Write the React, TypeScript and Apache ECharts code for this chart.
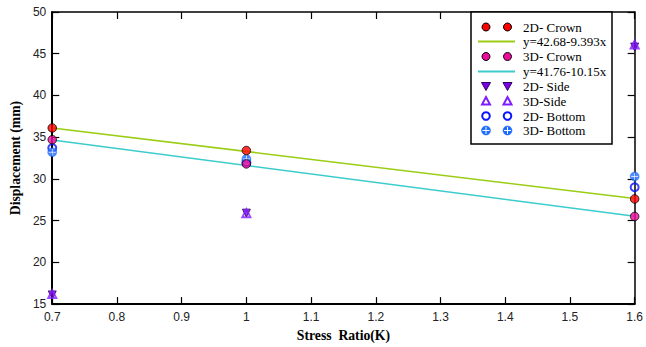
import React, { useEffect, useRef } from "react";
import * as echarts from "echarts";

const stressRatio = [0.7, 1.0, 1.6];
const crown2D = [36.1, 33.4, 27.6];
const crown3D = [34.7, 31.8, 25.5];
const side2D = [16.1, 25.9, 45.8];
const side3D = [16.2, 25.9, 46.1];
const bottom2D = [33.7, 32.0, 29.0];
const bottom3D = [33.2, 32.4, 30.3];
const fit2D = [[0.7, 36.1], [1.6, 27.65]];
const fit3D = [[0.7, 34.66], [1.6, 25.52]];
const legendLabels = ["2D- Crown", "y=42.68-9.393x", "3D- Crown", "y=41.76-10.15x", "2D- Side", "3D-Side", "2D- Bottom", "3D- Bottom"];

const C_RED = "#FF0000";
const C_PINK = "#EE0A9A";
const C_PURPLE = "#7A00E6";
const C_VIOLET = "#7F1CFF";
const C_BLUE = "#0A14FF";
const C_BLUE2 = "#1E6BFF";
const C_GREEN = "#9ACD14";
const C_CYAN = "#3CCCCC";

const pts = (ys: number[]) => stressRatio.map((x, i) => [x, ys[i]]);

export default function App() {
  const ref = useRef<HTMLDivElement>(null);
  useEffect(() => {
    const chart = echarts.init(ref.current!, null, { renderer: "svg" });
    const L = 50, R = 638, T = 12, B = 306;
    const plus = "path://M5,0L5,10M0,5L10,5";

    const lg: any[] = [];
    lg.push({ type: "rect", shape: { x: 471, y: 12, width: 141, height: 132 }, style: { fill: "#fff", stroke: "#000", lineWidth: 1.5 }, z: 100 });
    const rowY = [27, 41.5, 56.5, 71.5, 86.5, 101, 116, 130.5];
    const mx = [486, 507.5];
    rowY.forEach((y, i) => {
      lg.push({ type: "text", x: 523, y, style: { text: legendLabels[i], font: "13px 'Liberation Serif', 'Times New Roman', serif", fill: "#000", verticalAlign: "middle" }, z: 101 });
    });
    mx.forEach((x) => {
      lg.push({ type: "circle", shape: { cx: x, cy: rowY[0], r: 4 }, style: { fill: C_RED, stroke: "#000", lineWidth: 1 }, z: 101 });
      lg.push({ type: "circle", shape: { cx: x, cy: rowY[2], r: 4 }, style: { fill: C_PINK, stroke: "#000", lineWidth: 1 }, z: 101 });
      lg.push({ type: "polygon", shape: { points: [[x - 4.5, rowY[4] - 4], [x + 4.5, rowY[4] - 4], [x, rowY[4] + 4]] }, style: { fill: C_PURPLE, stroke: "#300060", lineWidth: 1 }, z: 101 });
      lg.push({ type: "polygon", shape: { points: [[x - 4, rowY[5] + 3.5], [x + 4, rowY[5] + 3.5], [x, rowY[5] - 4]] }, style: { fill: "none", stroke: C_VIOLET, lineWidth: 2 }, z: 101 });
      lg.push({ type: "circle", shape: { cx: x, cy: rowY[6], r: 3.8 }, style: { fill: "none", stroke: C_BLUE, lineWidth: 2 }, z: 101 });
      lg.push({ type: "circle", shape: { cx: x, cy: rowY[7], r: 4.5 }, style: { fill: C_BLUE2, stroke: C_BLUE2, lineWidth: 0.5 }, z: 101 });
      lg.push({ type: "line", shape: { x1: x - 3.5, y1: rowY[7], x2: x + 3.5, y2: rowY[7] }, style: { stroke: "#fff", lineWidth: 1 }, z: 102 });
      lg.push({ type: "line", shape: { x1: x, y1: rowY[7] - 3.5, x2: x, y2: rowY[7] + 3.5 }, style: { stroke: "#fff", lineWidth: 1 }, z: 102 });
    });
    lg.push({ type: "line", shape: { x1: 478, y1: rowY[1], x2: 515, y2: rowY[1] }, style: { stroke: C_GREEN, lineWidth: 1.8 }, z: 101 });
    lg.push({ type: "line", shape: { x1: 478, y1: rowY[3], x2: 515, y2: rowY[3] }, style: { stroke: C_CYAN, lineWidth: 1.8 }, z: 101 });

    const tickLabel = { fontFamily: "'Liberation Sans', Arial, sans-serif", fontSize: 12, color: "#222" };
    const fmt = (v: number) => String(Math.round(v * 10) / 10);
    const fmtY = (v: number) => String(Math.round(v));
    const titleStyle = { fontFamily: "'Liberation Serif', 'Times New Roman', serif", fontWeight: "bold", fontSize: 13.7, color: "#000" };

    chart.setOption({
      animation: false,
      backgroundColor: "#fff",
      grid: { left: L, right: 646 - R, top: T, bottom: 347 - B, containLabel: false },
      xAxis: [
        {
          type: "value", min: 0.7, max: 1.6, interval: 0.1, position: "bottom",
          name: "Stress  Ratio(K)", nameLocation: "middle", nameGap: 23,
          nameTextStyle: titleStyle,
          axisLine: { lineStyle: { color: "#000", width: 2 } },
          axisTick: { inside: true, length: 7, lineStyle: { color: "#000", width: 1.2 } },
          axisLabel: { ...tickLabel, margin: 7, formatter: fmt },
          splitLine: { show: false },
        },
        {
          type: "value", min: 0.7, max: 1.6, interval: 0.1, position: "top",
          axisLine: { lineStyle: { color: "#000", width: 1.5 } },
          axisTick: { inside: true, length: 7, lineStyle: { color: "#000", width: 1.2 } },
          axisLabel: { show: false },
          splitLine: { show: false },
        },
      ],
      yAxis: [
        {
          type: "value", min: 15, max: 50, interval: 5, position: "left",
          name: "Displacement (mm)", nameLocation: "middle", nameGap: 30,
          nameTextStyle: titleStyle,
          axisLine: { lineStyle: { color: "#000", width: 2 } },
          axisTick: { inside: true, length: 7, lineStyle: { color: "#000", width: 1.2 } },
          axisLabel: { ...tickLabel, margin: 6, formatter: fmtY },
          splitLine: { show: false },
        },
        {
          type: "value", min: 15, max: 50, interval: 5, position: "right",
          axisLine: { lineStyle: { color: "#000", width: 1.5 } },
          axisTick: { inside: true, length: 7, lineStyle: { color: "#000", width: 1.2 } },
          axisLabel: { show: false },
          splitLine: { show: false },
        },
      ],
      series: [
        { type: "line", data: fit2D, symbol: "none", lineStyle: { color: C_GREEN, width: 1.6 }, z: 2 },
        { type: "line", data: fit3D, symbol: "none", lineStyle: { color: C_CYAN, width: 1.6 }, z: 2 },
        { type: "scatter", data: pts(side2D), symbol: "triangle", symbolRotate: 180, symbolSize: 8, clip: false, itemStyle: { color: C_PURPLE, borderColor: "#300060", borderWidth: 1 }, z: 3 },
        { type: "scatter", data: pts(side3D), symbol: "triangle", symbolSize: 8, clip: false, itemStyle: { color: "rgba(0,0,0,0)", borderColor: C_VIOLET, borderWidth: 2 }, z: 4 },
        { type: "scatter", data: pts(bottom2D), symbol: "circle", symbolSize: 8, clip: false, itemStyle: { color: "rgba(0,0,0,0)", borderColor: C_BLUE, borderWidth: 2 }, z: 5 },
        { type: "scatter", data: pts(bottom3D), symbol: "circle", symbolSize: 9, clip: false, itemStyle: { color: C_BLUE2, borderColor: C_BLUE2, borderWidth: 0.5 }, z: 6 },
        { type: "scatter", data: pts(bottom3D), symbol: plus, symbolSize: 7, clip: false, itemStyle: { color: "rgba(0,0,0,0)", borderColor: "#fff", borderWidth: 1 }, z: 7 },
        { type: "scatter", data: pts(crown3D), symbol: "circle", symbolSize: 8.5, clip: false, itemStyle: { color: C_PINK, borderColor: "#000", borderWidth: 1 }, z: 8 },
        { type: "scatter", data: pts(crown2D), symbol: "circle", symbolSize: 8.5, clip: false, itemStyle: { color: C_RED, borderColor: "#000", borderWidth: 1 }, z: 9 },
      ],
      graphic: lg,
    });
    return () => chart.dispose();
  }, []);
  return <div ref={ref} style={{ position: "fixed", left: 0, top: 0, width: 646, height: 347 }} />;
}
